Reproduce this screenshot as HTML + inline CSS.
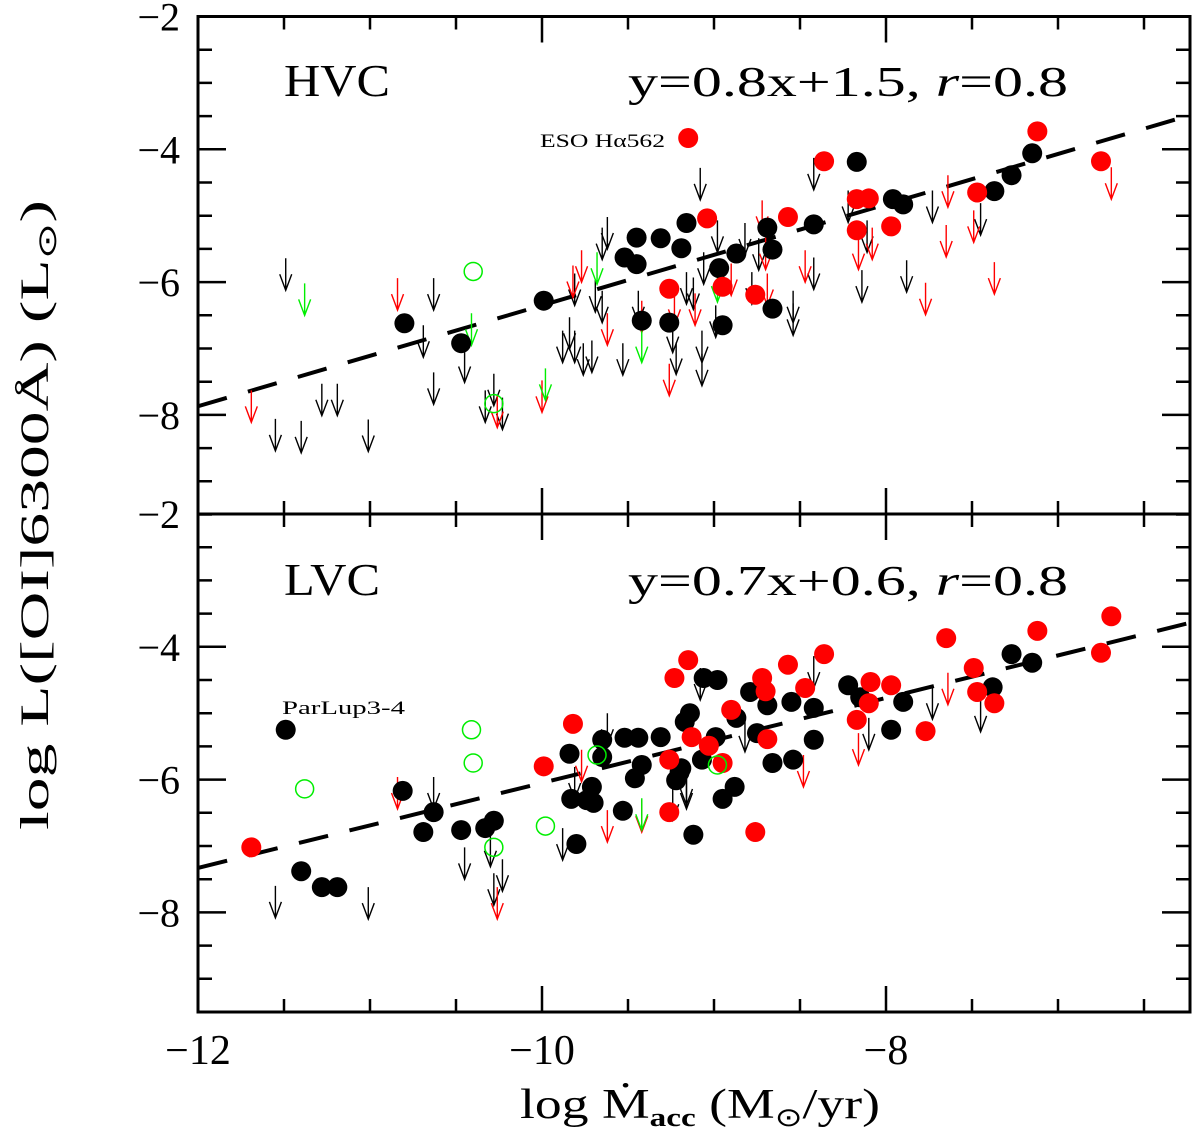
<!DOCTYPE html>
<html><head><meta charset="utf-8"><style>
html,body{margin:0;padding:0;background:#fff;}
svg{display:block;font-family:"Liberation Serif",serif;}
</style></head><body>
<svg id="chart" width="1200" height="1135" viewBox="0 0 1200 1135" xmlns="http://www.w3.org/2000/svg">
<g id="marks"></g>
<g id="axes"></g>
<text x="284" y="96" font-size="46" textLength="106" lengthAdjust="spacingAndGlyphs">HVC</text>
<text x="628" y="96" font-size="42" textLength="440" lengthAdjust="spacingAndGlyphs">y=0.8x+1.5, <tspan font-style="italic">r</tspan>=0.8</text>
<text x="284" y="595" font-size="46" textLength="96" lengthAdjust="spacingAndGlyphs">LVC</text>
<text x="628" y="595" font-size="42" textLength="440" lengthAdjust="spacingAndGlyphs">y=0.7x+0.6, <tspan font-style="italic">r</tspan>=0.8</text>
<text x="540" y="147" font-size="19" textLength="125" lengthAdjust="spacingAndGlyphs">ESO Hα562</text>
<text x="282" y="714" font-size="19" textLength="123" lengthAdjust="spacingAndGlyphs">ParLup3-4</text>
<text x="520" y="1118" font-size="42" textLength="360" lengthAdjust="spacingAndGlyphs">log Ṁ<tspan font-size="26" font-weight="bold" dy="8">acc</tspan><tspan dy="-8"> (M</tspan><tspan font-size="26" dy="8">⊙</tspan><tspan dy="-8">/yr)</tspan></text>
<text transform="translate(48,830) rotate(-90)" font-size="40" textLength="630" lengthAdjust="spacingAndGlyphs">log L([OI]6300Å) (L<tspan font-size="26" dy="8">⊙</tspan><tspan dy="-8">)</tspan></text>
</svg>
<script>
// X axis / panels
const xTicksMajor = [-12, -10, -8];
const yTicksMajor = [-2, -4, -6, -8];
// HVC (top) panel data
const hvcBlackX = [-10.80,-10.47,-9.99,-9.52,-9.45,-9.45,-9.31,-9.16,-9.19,-9.42,-9.26,-8.97,-8.95,-8.87,-8.69,-8.66,-8.66,-8.42,-8.17,-7.96,-7.90,-7.37,-7.27,-7.15];
const hvcBlackY = [-6.62,-6.92,-6.28,-5.63,-5.73,-5.33,-5.34,-5.11,-5.49,-6.58,-6.61,-5.79,-6.65,-5.57,-5.18,-5.51,-6.40,-5.13,-4.19,-4.75,-4.83,-4.63,-4.39,-4.06];
const hvcRedX = [-9.15,-9.04,-8.95,-8.76,-8.57,-8.36,-8.17,-8.10,-8.17,-7.97,-7.47,-7.12,-6.75,-9.26];
const hvcRedY = [-3.83,-5.04,-6.07,-6.19,-5.02,-4.18,-4.75,-4.74,-5.22,-5.16,-4.65,-3.73,-4.18,-6.10];
const hvcGreenX = [-10.40,-10.28];
const hvcGreenY = [-5.84,-7.83];
const hvcBlackLimX = [-11.49,-11.55,-11.40,-11.28,-11.19,-11.01,-10.69,-10.63,-10.63,-10.45,-10.28,-10.33,-10.23,-9.84,-9.88,-9.81,-9.81,-9.76,-9.71,-9.69,-9.65,-9.62,-9.65,-9.53,-9.44,-9.24,-9.22,-9.16,-9.08,-8.98,-8.82,-8.74,-9.12,-9.06,-8.99,-9.07,-9.07,-8.78,-8.54,-8.54,-8.42,-8.42,-8.22,-8.11,-8.14,-7.88,-7.73,-7.45];
const hvcBlackLimY = [-5.64,-8.06,-8.09,-7.53,-7.53,-8.07,-6.65,-5.94,-7.36,-7.03,-7.38,-7.63,-7.74,-6.53,-6.73,-6.73,-5.87,-6.92,-6.88,-5.97,-6.13,-5.02,-5.18,-6.92,-6.13,-6.58,-6.91,-5.85,-4.28,-5.07,-5.11,-5.34,-5.93,-5.55,-6.35,-6.73,-7.08,-5.85,-6.13,-6.32,-5.63,-4.13,-4.62,-5.07,-5.82,-5.67,-4.62,-4.81];
const hvcRedLimX = [-11.69,-10.84,-9.82,-9.77,-10.00,-9.62,-9.42,-9.26,-9.23,-10.26,-8.72,-8.70,-8.69,-8.90,-9.11,-8.47,-8.16,-8.08,-7.77,-7.64,-7.65,-7.49,-7.37,-6.69];
const hvcRedLimY = [-7.63,-5.94,-5.75,-5.52,-7.48,-6.47,-6.28,-7.23,-6.17,-7.71,-4.77,-5.33,-5.87,-5.72,-6.17,-5.52,-5.33,-5.18,-6.01,-4.39,-5.14,-4.92,-5.70,-4.27];
const hvcGreenLimX = [-11.38,-10.41,-9.42,-9.68,-9.98,-8.98];
const hvcGreenLimY = [-6.02,-6.47,-6.73,-5.55,-7.30,-5.82];
const hvcFit = [0.76, 1.25];
// LVC (bottom) panel data
const lvcBlackX = [-11.49,-11.40,-11.28,-11.19,-10.81,-10.63,-10.69,-10.47,-10.33,-10.28,-9.84,-9.83,-9.80,-9.65,-9.65,-9.71,-9.74,-9.70,-9.52,-9.44,-9.42,-9.46,-9.31,-9.53,-9.20,-9.22,-9.17,-9.14,-9.12,-9.06,-8.98,-8.99,-8.87,-9.07,-9.19,-8.95,-8.88,-8.79,-8.69,-8.55,-8.42,-8.75,-8.66,-8.54,-8.42,-8.22,-8.15,-7.97,-7.90,-7.38,-7.27,-7.15];
const lvcBlackY = [-5.25,-7.38,-7.62,-7.62,-6.17,-6.49,-6.79,-6.76,-6.73,-6.62,-5.61,-6.29,-6.97,-5.40,-5.66,-6.11,-6.31,-6.35,-5.37,-5.37,-5.78,-5.98,-5.36,-6.47,-5.89,-6.01,-5.13,-5.00,-6.83,-4.47,-4.50,-5.36,-5.07,-5.70,-5.83,-6.29,-6.11,-4.68,-4.88,-4.83,-4.92,-5.30,-5.75,-5.70,-5.40,-4.58,-4.76,-5.25,-4.83,-4.61,-4.11,-4.24];
const lvcRedX = [-11.69,-9.82,-9.99,-9.26,-9.23,-9.15,-9.26,-9.13,-9.03,-8.95,-8.90,-8.72,-8.70,-8.57,-8.36,-8.47,-8.09,-7.97,-8.10,-8.17,-8.69,-7.77,-8.76,-7.65,-7.49,-7.47,-7.37,-7.12,-6.69,-6.75];
const lvcRedY = [-7.02,-5.16,-5.80,-6.49,-4.47,-4.20,-5.70,-5.36,-5.49,-5.75,-4.95,-4.47,-4.67,-4.27,-4.11,-4.62,-4.53,-4.58,-4.85,-5.10,-5.39,-5.27,-6.79,-3.87,-4.32,-4.68,-4.85,-3.76,-3.54,-4.09];
const lvcGreenX = [-11.38,-10.41,-10.40,-10.28,-9.98,-9.68,-8.98];
const lvcGreenY = [-6.14,-5.25,-5.75,-7.02,-6.70,-5.63,-5.78];
const lvcBlackLimX = [-11.55,-11.01,-10.63,-10.45,-10.30,-10.28,-10.23,-9.88,-9.81,-9.62,-9.24,-9.16,-9.08,-9.16,-8.82,-8.42,-8.10,-7.73,-7.45];
const lvcBlackLimY = [-7.60,-7.62,-5.96,-7.02,-6.83,-7.41,-7.20,-6.73,-5.81,-5.00,-6.13,-5.90,-4.32,-5.96,-5.10,-4.14,-5.07,-4.61,-4.80];
const lvcRedLimX = [-10.84,-10.26,-9.77,-9.62,-9.42,-8.48,-8.16,-7.64];
const lvcRedLimY = [-5.96,-7.62,-5.55,-6.46,-6.31,-5.63,-5.30,-4.39];
const lvcGreenLimX = [-9.42];
const lvcGreenLimY = [-6.28];
const lvcFit = [0.64, 0.35];

const NS = "http://www.w3.org/2000/svg";
const X0 = 198, X1 = 1190, XMIN = -12, XPU = 172;
const XMAX = XMIN + (X1 - X0) / XPU;
const YPU = 66.4;
const panels = [{top: 16.5, bottom: 514, name: 'hvc'}, {top: 514, bottom: 1012, name: 'lvc'}];
function sx(v){ return X0 + (v - XMIN) * XPU; }
function sy(p, v){ return p.top + (-2 - v) * YPU; }
const marks = document.getElementById('marks');
const axes = document.getElementById('axes');
function mk(tag, attrs, parent){
  const e = document.createElementNS(NS, tag);
  for (const k in attrs) e.setAttribute(k, attrs[k]);
  parent.appendChild(e);
  return e;
}
function circles(p, xs, ys, fill, stroke, r, nm){
  xs.forEach((x, i) => {
    const c = mk('circle', {cx: sx(x), cy: sy(p, ys[i]), r: r, fill: fill, stroke: stroke, 'stroke-width': 1.5}, marks);
    
    
  });
}
function arrows(p, xs, ys, col, nm){
  xs.forEach((x, i) => {
    const px = sx(x), py = sy(p, ys[i]), L = 32;
    const d = `M${px},${py} L${px},${py+L} M${px-6},${py+L-16} L${px},${py+L} L${px+6},${py+L-16}`;
    const a = mk('path', {d: d, stroke: col, 'stroke-width': 1.4, fill: 'none'}, marks);
    
    
  });
}
function fit(p, f, nm){
  const l = mk('line', {x1: sx(XMIN), y1: sy(p, f[0]*XMIN + f[1]), x2: sx(XMAX), y2: sy(p, f[0]*XMAX + f[1]), stroke: '#000', 'stroke-width': 4, 'stroke-dasharray': '30,22'}, marks);
  
  
}
const P0 = panels[0], P1 = panels[1];
fit(P0, hvcFit, 'hvc-fit-line');
arrows(P0, hvcBlackLimX, hvcBlackLimY, '#000', 'hvc-black-upper-limit');
arrows(P0, hvcRedLimX, hvcRedLimY, '#ff0000', 'hvc-red-upper-limit');
arrows(P0, hvcGreenLimX, hvcGreenLimY, '#00ee00', 'hvc-green-upper-limit');
circles(P0, hvcBlackX, hvcBlackY, '#000', 'none', 10, 'hvc-black-point');
circles(P0, hvcRedX, hvcRedY, '#ff0000', 'none', 10, 'hvc-red-point');
circles(P0, hvcGreenX, hvcGreenY, 'none', '#00ee00', 9, 'hvc-green-open-point');
fit(P1, lvcFit, 'lvc-fit-line');
arrows(P1, lvcBlackLimX, lvcBlackLimY, '#000', 'lvc-black-upper-limit');
arrows(P1, lvcRedLimX, lvcRedLimY, '#ff0000', 'lvc-red-upper-limit');
arrows(P1, lvcGreenLimX, lvcGreenLimY, '#00ee00', 'lvc-green-upper-limit');
circles(P1, lvcBlackX, lvcBlackY, '#000', 'none', 10, 'lvc-black-point');
circles(P1, lvcRedX, lvcRedY, '#ff0000', 'none', 10, 'lvc-red-point');
circles(P1, lvcGreenX, lvcGreenY, 'none', '#00ee00', 9, 'lvc-green-open-point');

// axes
panels.forEach(p => {
  const fr = mk('rect', {x: X0, y: p.top, width: X1 - X0, height: p.bottom - p.top, fill: 'none', stroke: '#000', 'stroke-width': 3}, axes);
  
  
  let d = '';
  for (let v = XMIN; v <= XMAX + 1e-6; v += 0.5) {
    const major = Math.abs(v - Math.round(v)) < 1e-6 && Math.round(v) % 2 === 0;
    const L = major ? 26 : 13, px = sx(v);
    d += `M${px},${p.bottom} L${px},${p.bottom-L} M${px},${p.top} L${px},${p.top+L} `;
  }
  for (let v = -2; v >= -9.5 - 1e-6; v -= 0.5) {
    const major = Math.abs(v - Math.round(v)) < 1e-6 && Math.round(v) % 2 === 0;
    const L = major ? 28 : 14, py = sy(p, v);
    d += `M${X0},${py} L${X0+L},${py} M${X1},${py} L${X1-L},${py} `;
  }
  const t = mk('path', {d: d, stroke: '#000', 'stroke-width': 2.5, fill: 'none'}, axes);
  
  
  yTicksMajor.forEach(v => {
    const tx = mk('text', {x: 180, y: sy(p, v) + 14, 'font-size': 40, 'text-anchor': 'end'}, axes);
    tx.textContent = '\u2212' + Math.abs(v);
    
    
  });
});
xTicksMajor.forEach(v => {
  const tx = mk('text', {x: sx(v), y: 1064, 'font-size': 42, 'text-anchor': 'middle'}, axes);
  tx.textContent = '\u2212' + Math.abs(v);
  
  
});
</script>
</body></html>
